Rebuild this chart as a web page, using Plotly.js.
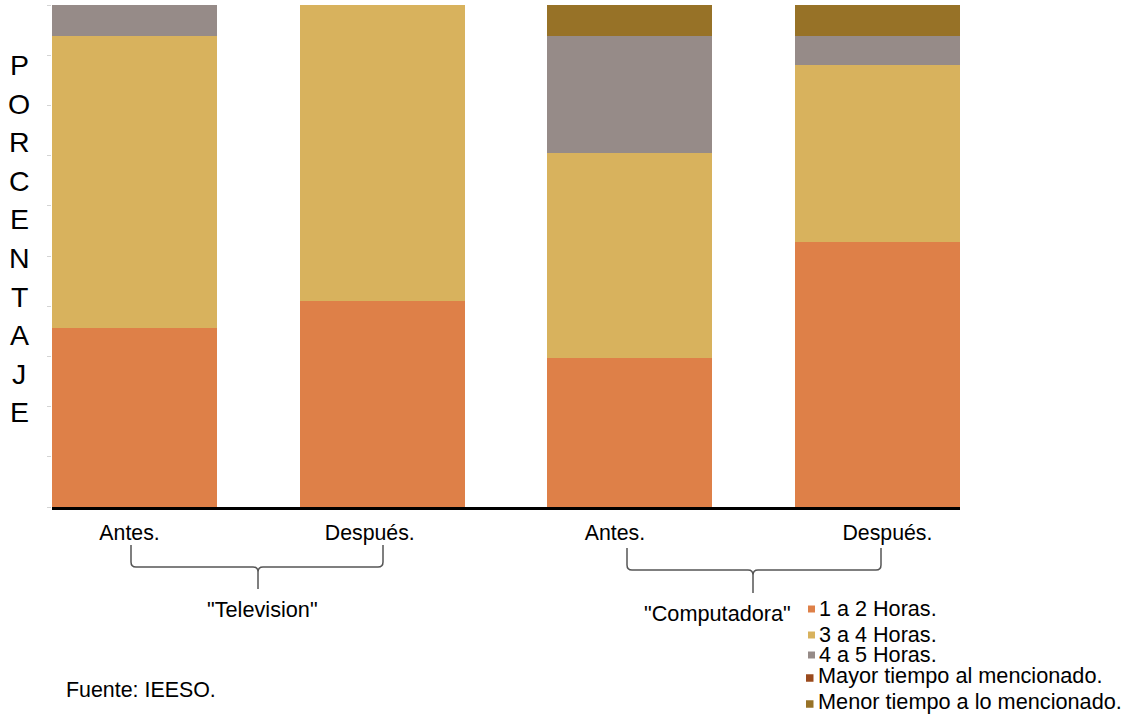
<!DOCTYPE html>
<html>
<head>
<meta charset="utf-8">
<script src="https://cdn.plot.ly/plotly-3.0.1.min.js"></script>
<style>
  html, body { margin: 0; padding: 0; background: #fff; }
  #chart { width: 1122px; height: 717px; }
</style>
</head>
<body>
<div id="chart"></div>
<script>
// Groups and periods (one bar per period)
const groups = ['"Television"', '"Computadora"'];
const periods = ['Antes.', 'Después.', 'Antes.', 'Después.'];

// Series (percent of respondents per bar)
const seriesNames = ['1 a 2 Horas.', '3 a 4 Horas.', '4 a 5 Horas.', 'Mayor tiempo al mencionado.', 'Menor tiempo a lo mencionado.'];
const horas1a2 = [35.6, 41.0, 29.6, 52.8];
const horas3a4 = [58.2, 59.0, 41.0, 35.3];
const horas4a5 = [6.2, 0, 23.2, 5.7];
const mayorTiempo = [0, 0, 0, 0];
const menorTiempo = [0, 0, 6.2, 6.2];
const seriesColors = ['#DE8048', '#D8B25D', '#968B88', '#9A4A1D', '#977227'];

const FONT = 'Liberation Sans, Arial, sans-serif';

// Plot area in page pixels
const L = 52, R = 960, T = 5, B = 507;
const W = 1122, H = 717;
const px = x => (x - L) / (R - L);
const py = y => (B - y) / (B - T);

const xs = [0, 1, 2, 3];
const values = [horas1a2, horas3a4, horas4a5, mayorTiempo, menorTiempo];
const traces = values.map((v, i) => ({
  type: 'bar',
  x: xs,
  y: v,
  name: seriesNames[i],
  marker: { color: seriesColors[i], line: { width: 0 } },
  width: 0.666,
  hoverinfo: 'name+y',
  showlegend: false
}));

const annotations = [];
const shapes = [];

// Vertical axis title, one letter per line
const yTitle = 'PORCENTAJE';
[...yTitle].forEach((ch, i) => {
  annotations.push({
    xref: 'paper', yref: 'paper',
    x: px(19), y: py(65 + i * 38.6),
    text: ch, showarrow: false,
    xanchor: 'center', yanchor: 'middle',
    font: { family: FONT, size: 28.5, color: '#000' }
  });
});

// Curly brace under each pair of bars
function brace(x1, x2, xm, yTop, yBar, yTip) {
  const r = 5;
  const p = (x, y) => px(x) + ',' + py(y);
  return 'M' + p(x1, yTop) + ' L' + p(x1, yBar - r) + ' Q' + p(x1, yBar) + ' ' + p(x1 + r, yBar) +
         ' L' + p(xm - r, yBar) + ' Q' + p(xm, yBar) + ' ' + p(xm, yBar + r) +
         ' L' + p(xm, yTip) +
         ' M' + p(x2, yTop) + ' L' + p(x2, yBar - r) + ' Q' + p(x2, yBar) + ' ' + p(x2 - r, yBar) +
         ' L' + p(xm + r, yBar) + ' Q' + p(xm, yBar) + ' ' + p(xm, yBar + r);
}
shapes.push({ type: 'path', xref: 'paper', yref: 'paper', path: brace(131, 383, 258, 545, 567, 589), line: { color: '#555', width: 1.5 } });
shapes.push({ type: 'path', xref: 'paper', yref: 'paper', path: brace(627, 881, 753, 548, 570, 593), line: { color: '#555', width: 1.5 } });

// Group labels
annotations.push({ xref: 'paper', yref: 'paper', x: px(262), y: py(609), text: groups[0], showarrow: false, xanchor: 'center', yanchor: 'middle', font: { family: FONT, size: 21.7, color: '#000' } });
annotations.push({ xref: 'paper', yref: 'paper', x: px(717), y: py(613), text: groups[1], showarrow: false, xanchor: 'center', yanchor: 'middle', font: { family: FONT, size: 21.7, color: '#000' } });

// Source note
annotations.push({ xref: 'paper', yref: 'paper', x: px(64), y: py(690), text: 'Fuente: IEESO.', showarrow: false, xanchor: 'left', yanchor: 'middle', font: { family: FONT, size: 21.4, color: '#000' } });

// Key: small colour squares with labels
const keyRows = [
  { y: 608, size: 21.6, mx: 808, m: 7 },
  { y: 634, size: 21.6, mx: 808, m: 7 },
  { y: 654, size: 21.6, mx: 808, m: 7 },
  { y: 675, size: 21.7, mx: 806, m: 7.5 },
  { y: 701, size: 21.7, mx: 806, m: 7.5 }
];
keyRows.forEach((r, i) => {
  const my = i < 3 ? r.y + 1 : r.y + 3;
  shapes.push({
    type: 'rect', xref: 'paper', yref: 'paper',
    x0: px(r.mx), x1: px(r.mx + r.m), y0: py(my - r.m / 2), y1: py(my + r.m / 2),
    fillcolor: seriesColors[i], line: { width: 0 }
  });
  annotations.push({
    xref: 'paper', yref: 'paper', x: px(r.mx + r.m + 2), y: py(r.y),
    text: seriesNames[i], showarrow: false, xanchor: 'left', yanchor: 'middle',
    font: { family: FONT, size: r.size, color: '#000' }
  });
});

const layout = {
  width: W, height: H,
  margin: { l: L, r: W - R, t: T, b: H - B, pad: 0 },
  paper_bgcolor: '#fff', plot_bgcolor: '#fff',
  barmode: 'stack',
  bargap: 0,
  showlegend: false,
  font: { family: FONT, size: 21, color: '#000' },
  xaxis: {
    range: [-0.333, 3.333],
    tickmode: 'array',
    tickvals: [-0.02, 0.95, 1.94, 3.04],
    ticktext: periods,
    ticks: '',
    ticklabelstandoff: 4,
    showgrid: false, zeroline: false,
    showline: true, linecolor: '#000', linewidth: 3,
    tickfont: { family: FONT, size: 21.3, color: '#000' },
    fixedrange: true
  },
  yaxis: {
    range: [0, 100],
    dtick: 10,
    showticklabels: false,
    ticks: 'outside', ticklen: 4, tickwidth: 1, tickcolor: '#d4d4d4',
    showgrid: false, zeroline: false, showline: false,
    fixedrange: true
  },
  annotations: annotations,
  shapes: shapes
};

Plotly.newPlot('chart', traces, layout, { displayModeBar: false, staticPlot: true });
</script>
</body>
</html>
